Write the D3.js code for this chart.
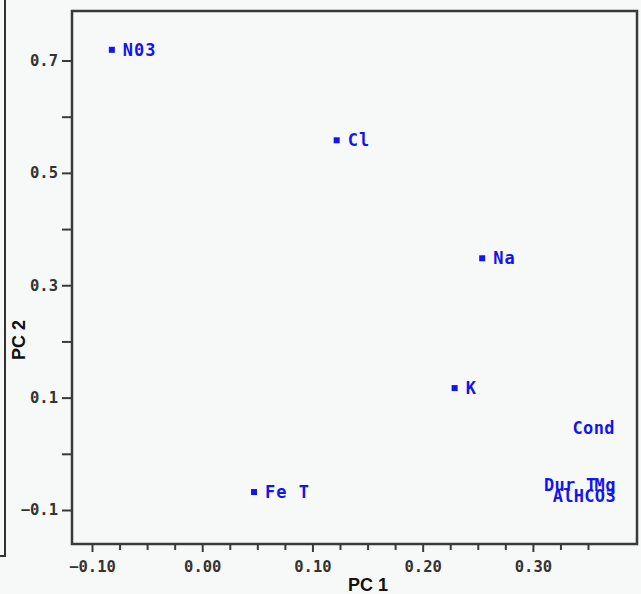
<!DOCTYPE html>
<html><head><meta charset="utf-8">
<script src="https://cdn.jsdelivr.net/npm/d3@7"></script>
<style>
html,body{margin:0;padding:0;background:#f6f9f7;}
svg{display:block;}
</style></head>
<body>
<script>
// Loadings
const variables = ["N03", "Cl", "Na", "K", "Fe T"];
const pc1 = [-0.082, 0.122, 0.254, 0.229, 0.047];
const pc2 = [0.719, 0.558, 0.348, 0.117, -0.068];

// Labels crowded at the right edge (markers not drawn in the original)
const edgeLabels = ["Cond", "Dur T", "Mg", "AlHCO3"];
const edgePc1 = [0.336, 0.310, 0.356, 0.318];
const edgePc2 = [0.046, -0.056, -0.056, -0.075];

const xMajor = [-0.10, 0.00, 0.10, 0.20, 0.30];
const xMinorStep = 0.025;
const yMajor = [0.7, 0.5, 0.3, 0.1, -0.1];
const yMinor = [0.6, 0.4, 0.2, 0.0];

const W = 641, H = 594;
const L = 72, R = 637, T = 11, B = 544;
const x = d3.scaleLinear().domain([-0.10, 0.35]).range([92, 588]);
const y = d3.scaleLinear().domain([-0.1, 0.7]).range([510, 60.5]);

const svg = d3.select("body").append("svg").attr("width", W).attr("height", H);
svg.append("rect").attr("width", W).attr("height", H).attr("fill", "#f6f9f7");

// neighbouring panel edge
svg.append("path").attr("d", "M5,0V556H0").attr("fill", "none").attr("stroke", "#333").attr("stroke-width", 2);

const axisColor = "#3a3a3a";
const tickFont = "'DejaVu Sans Mono', monospace";

// x axis
const xMinor = d3.range(-0.10, 0.35 + 1e-9, xMinorStep).filter(v => !xMajor.some(m => Math.abs(m - v) < 1e-9));
const xAxisMinor = d3.axisBottom(x).tickValues(xMinor).tickSize(6).tickFormat("");
const xAxisMajor = d3.axisBottom(x).tickValues(xMajor).tickSize(8).tickPadding(9).tickFormat(d3.format(".2f"));
const gxm = svg.append("g").attr("transform", `translate(0,${B})`).call(xAxisMinor);
const gx = svg.append("g").attr("transform", `translate(0,${B})`).call(xAxisMajor);
[gxm, gx].forEach(g => { g.select(".domain").remove(); g.selectAll("line").attr("stroke", axisColor).attr("stroke-width", 2); });
gx.selectAll("text").attr("fill", "#333").attr("font-family", tickFont).attr("font-weight", "bold").attr("font-size", 15.5);

// y axis
const yAxisMinor = d3.axisLeft(y).tickValues(yMinor).tickSize(10).tickFormat("");
const yAxisMajor = d3.axisLeft(y).tickValues(yMajor).tickSize(10).tickPadding(4).tickFormat(d3.format(".1f"));
const gym = svg.append("g").attr("transform", `translate(${L},0)`).call(yAxisMinor);
const gy = svg.append("g").attr("transform", `translate(${L},0)`).call(yAxisMajor);
[gym, gy].forEach(g => { g.select(".domain").remove(); g.selectAll("line").attr("stroke", axisColor).attr("stroke-width", 2); });
gy.selectAll("text").attr("fill", "#333").attr("font-family", tickFont).attr("font-weight", "bold").attr("font-size", 15.5);

// frame
svg.append("rect").attr("x", L).attr("y", T).attr("width", R - L).attr("height", B - T)
  .attr("fill", "none").attr("stroke", axisColor).attr("stroke-width", 2.5);

// axis titles
svg.append("text").attr("x", 368).attr("y", 591).attr("text-anchor", "middle")
  .attr("font-family", "'Liberation Sans', Arial, sans-serif").attr("font-weight", "bold").attr("font-size", 18)
  .attr("fill", "#111").text("PC 1");
svg.append("text").attr("transform", "translate(25,340) rotate(-90)").attr("text-anchor", "middle")
  .attr("font-family", "'Liberation Sans', Arial, sans-serif").attr("font-weight", "bold").attr("font-size", 18)
  .attr("fill", "#111").text("PC 2");

const blue = "#1414f0";
const labelFont = "'DejaVu Sans Mono', monospace";

const pts = variables.map((v, i) => ({ name: v, a: pc1[i], b: pc2[i] }));
const g = svg.append("g");
g.selectAll("rect.pt").data(pts).join("rect").attr("class", "pt")
  .attr("x", d => x(d.a) - 3).attr("y", d => y(d.b) - 3).attr("width", 6).attr("height", 6).attr("fill", blue);
g.selectAll("text.lab").data(pts).join("text").attr("class", "lab")
  .attr("x", d => x(d.a) + 11).attr("y", d => y(d.b) + 6)
  .attr("font-family", labelFont).attr("font-size", 17).attr("font-weight", "bold").attr("letter-spacing", 1)
  .attr("fill", blue).text(d => d.name);

const edges = edgeLabels.map((v, i) => ({ name: v, a: edgePc1[i], b: edgePc2[i] }));
g.selectAll("text.edge").data(edges).join("text").attr("class", "edge")
  .attr("x", d => x(d.a)).attr("y", d => y(d.b) + 6)
  .attr("font-family", labelFont).attr("font-size", 17).attr("font-weight", "bold").attr("letter-spacing", 0.3)
  .attr("fill", blue).text(d => d.name);
</script>
</body></html>
